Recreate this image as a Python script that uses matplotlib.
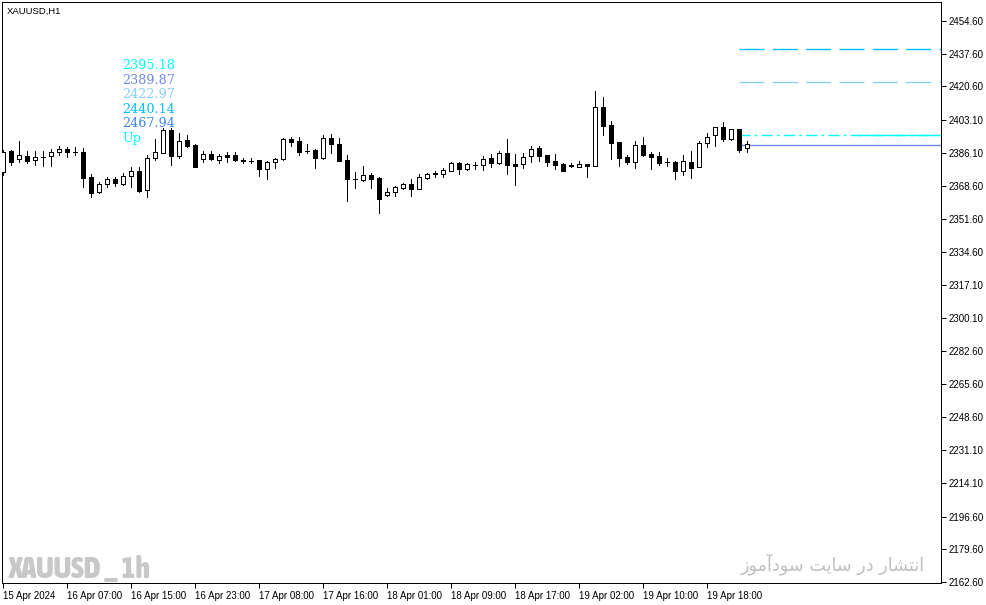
import matplotlib
matplotlib.use("Agg")
import matplotlib.pyplot as plt
from matplotlib import font_manager as fm
import numpy as np

# ---------------- data ----------------
opens = [2376.18, 2386.93, 2382.60, 2384.33, 2382.25, 2383.98, 2384.33, 2386.41, 2387.98, 2386.59,
         2386.59, 2373.23, 2365.42, 2369.76, 2372.36, 2369.76, 2374.10, 2376.70, 2366.63, 2383.12,
         2386.07, 2397.86, 2384.51, 2392.49, 2390.06, 2382.94, 2385.20, 2382.25, 2384.68, 2384.68,
         2382.08, 2381.90, 2382.25, 2377.74, 2381.04, 2382.60, 2393.35, 2391.97, 2387.11, 2387.45,
         2383.12, 2393.70, 2390.58, 2382.25, 2372.53, 2372.01, 2374.27, 2372.88, 2364.21, 2365.42,
         2367.85, 2369.76, 2367.33, 2373.05, 2375.48, 2375.14, 2376.70, 2380.69, 2377.74, 2379.82,
         2379.47, 2383.12, 2380.86, 2385.72, 2379.99, 2379.99, 2384.16, 2388.32, 2384.68, 2381.73,
         2379.99, 2379.47, 2378.78, 2379.99, 2379.13, 2409.66, 2400.47, 2391.62, 2383.64, 2381.38,
         2389.88, 2385.20, 2384.16, 2381.21, 2381.04, 2376.70, 2381.21, 2378.78, 2390.92, 2395.14,
         2399.60, 2393.35, 2398.21, 2388.32]
highs = [2387.45, 2387.45, 2392.14, 2387.11, 2387.11, 2387.11, 2387.80, 2389.54, 2388.84, 2388.84,
         2388.32, 2374.96, 2370.97, 2373.57, 2373.57, 2375.31, 2378.43, 2378.43, 2384.85, 2393.01,
         2398.73, 2398.73, 2396.48, 2395.26, 2390.58, 2387.11, 2386.93, 2385.37, 2386.59, 2386.59,
         2383.46, 2383.12, 2382.25, 2381.56, 2383.46, 2393.53, 2394.39, 2394.22, 2390.40, 2387.80,
         2395.26, 2395.78, 2393.53, 2384.68, 2375.83, 2379.13, 2375.31, 2373.23, 2367.50, 2368.72,
         2370.45, 2372.19, 2374.79, 2375.31, 2376.70, 2377.91, 2381.38, 2381.38, 2380.86, 2381.21,
         2384.33, 2385.37, 2387.11, 2393.18, 2385.37, 2385.72, 2389.54, 2389.54, 2384.85, 2385.37,
         2380.51, 2380.51, 2381.56, 2379.99, 2418.16, 2414.87, 2402.38, 2391.62, 2384.68, 2391.97,
         2394.05, 2386.24, 2386.24, 2383.12, 2381.56, 2384.68, 2387.11, 2391.97, 2396.13, 2399.60,
         2401.86, 2398.21, 2398.21, 2391.97]
lows = [2374.44, 2379.65, 2381.38, 2380.51, 2379.65, 2379.13, 2379.13, 2384.85, 2383.98, 2384.85,
        2368.37, 2362.82, 2364.90, 2368.02, 2368.72, 2369.24, 2368.37, 2365.77, 2363.16, 2382.25,
        2385.72, 2379.65, 2383.46, 2389.19, 2378.78, 2381.38, 2382.25, 2380.86, 2381.38, 2381.73,
        2380.86, 2380.51, 2374.10, 2372.53, 2377.91, 2382.25, 2389.71, 2385.03, 2385.72, 2378.26,
        2382.77, 2386.07, 2381.90, 2361.08, 2367.85, 2371.49, 2367.85, 2354.66, 2363.51, 2363.69,
        2366.98, 2363.69, 2366.98, 2372.19, 2373.23, 2373.57, 2376.35, 2375.14, 2377.04, 2377.74,
        2377.04, 2378.78, 2380.17, 2374.96, 2369.24, 2378.09, 2381.38, 2381.73, 2379.13, 2377.74,
        2376.70, 2378.78, 2378.78, 2373.57, 2378.95, 2395.26, 2382.77, 2379.13, 2380.17, 2378.26,
        2384.51, 2377.74, 2379.65, 2379.30, 2372.19, 2374.62, 2372.88, 2378.78, 2389.19, 2389.71,
        2392.31, 2392.66, 2386.59, 2386.59]
closes = [2386.59, 2381.38, 2384.85, 2381.90, 2383.64, 2383.90, 2386.41, 2387.98, 2386.41, 2386.55,
          2373.05, 2365.25, 2369.58, 2372.36, 2370.10, 2374.10, 2376.52, 2366.29, 2383.12, 2386.24,
          2397.86, 2384.33, 2392.31, 2389.71, 2378.78, 2385.37, 2382.60, 2384.51, 2383.98, 2382.08,
          2381.90, 2381.95, 2377.39, 2381.21, 2382.77, 2393.18, 2391.62, 2386.59, 2387.05, 2383.12,
          2393.53, 2390.40, 2381.90, 2372.19, 2372.45, 2374.27, 2372.53, 2361.78, 2365.42, 2368.02,
          2369.58, 2367.33, 2373.23, 2374.79, 2374.79, 2377.04, 2380.51, 2377.74, 2379.99, 2379.88,
          2382.94, 2380.86, 2385.72, 2379.82, 2379.30, 2383.98, 2387.80, 2384.51, 2381.38, 2379.82,
          2376.70, 2378.95, 2379.99, 2379.30, 2409.66, 2400.12, 2391.27, 2383.46, 2381.38, 2389.88,
          2384.85, 2383.98, 2380.69, 2381.15, 2376.70, 2381.56, 2378.09, 2390.92, 2394.39, 2399.60,
          2393.35, 2398.21, 2387.63, 2390.58]

xtick_bars = [0, 8, 16, 24, 32, 40, 48, 56, 64, 72, 80, 88]
xtick_labels = ["15 Apr 2024", "16 Apr 07:00", "16 Apr 15:00", "16 Apr 23:00",
                "17 Apr 08:00", "17 Apr 16:00", "18 Apr 01:00", "18 Apr 09:00",
                "18 Apr 17:00", "19 Apr 02:00", "19 Apr 10:00", "19 Apr 18:00"]
ytick_vals = [2454.60, 2437.60, 2420.60, 2403.10, 2386.10, 2368.60, 2351.60, 2334.60, 2317.10,
              2300.10, 2282.60, 2265.60, 2248.60, 2231.10, 2214.10, 2196.60, 2179.60, 2162.60]

level_values = [2395.18, 2389.87, 2422.97, 2440.14, 2467.94]
level_colors = ["#00FFFF", "#6F88E6", "#87CEFA", "#00BFFF", "#3C84E8"]
signal_text = "Up"

# ---------------- figure ----------------
W, H = 987, 605
fig = plt.figure(figsize=(W / 100, H / 100), dpi=100)
fig.patch.set_facecolor("white")
ax = fig.add_axes([2 / W, 22 / H, 939 / W, 581 / H])
ax.set_facecolor("white")

n = len(opens)
x = np.arange(n)
o = np.array(opens); c = np.array(closes); h = np.array(highs); l = np.array(lows)
up = c >= o

px = 0.72  # one pixel in points at 100 dpi

# wicks
ax.vlines(x, l, h, color="black", linewidth=px, zorder=3, antialiased=False)
# bodies
bottoms = np.minimum(o, c)
heights = np.maximum(np.abs(c - o), 0.05)
ax.bar(x, heights, bottom=bottoms, width=0.48,
       color=np.where(up, "white", "black"), edgecolor="black",
       linewidth=px, zorder=4, antialiased=False)

# horizontal indicator levels (start at the bar before last)
start = n - 2
end_x = 117.2
styles = {2422.97: (0, (18, 6)), 2440.14: (0, (18, 6)), 2395.18: (0, (8, 3, 2, 3)),
          2389.87: (0, ()), 2467.94: (0, ())}
for val, col in zip(level_values, level_colors):
    ln, = ax.plot([start - 0.1, end_x], [val, val], color=col, linewidth=1.0,
                  linestyle=styles[val], zorder=2, solid_capstyle="butt",
                  dash_capstyle="butt")
    ln.set_snap(True)
# cyan level becomes solid on its right part
ln, = ax.plot([106.7, end_x], [level_values[0]] * 2, color=level_colors[0],
              linewidth=1.0, zorder=2, solid_capstyle="butt")
ln.set_snap(True)

# axes limits / ticks
ax.set_xlim(-0.1625, end_x)
ax.set_ylim(2162.08, 2464.49)
ax.yaxis.tick_right()
ax.set_yticks(ytick_vals)
ax.set_yticklabels([f"{v:.2f}" for v in ytick_vals])
ax.set_xticks(xtick_bars)
ax.set_xticklabels(xtick_labels, ha="left")
ax.tick_params(axis="y", direction="out", length=3.5, width=px, pad=2,
               labelsize=7, labelfontfamily="Liberation Sans")
ax.tick_params(axis="x", direction="out", length=3.5, width=px, pad=2,
               labelsize=7, labelfontfamily="Liberation Sans")
for lab in ax.get_xticklabels():
    lab.set_horizontalalignment("left")
for sp in ax.spines.values():
    sp.set_linewidth(px)
    sp.set_color("black")

# ---------------- texts ----------------
def ft(xp, yp, s, **kw):
    return fig.text(xp / W, 1 - yp / H, s, **kw)

renderer = fig.canvas.get_renderer()

def fit_width(t, target):
    bb = t.get_window_extent(renderer)
    t.set_fontsize(t.get_fontsize() * target / bb.width)

ft(7, 11, "XAUUSD,H1", fontsize=6.8, family="Liberation Sans", va="center", ha="left")

labels = [f"{v:.2f}" for v in level_values] + [signal_text]
label_cols = level_colors + ["#00FFFF"]
for k, (s, col) in enumerate(zip(labels, label_cols)):
    ft(122, 65.5 + 14.6 * k, s, fontsize=9.2, family="DejaVu Serif", color=col,
       va="center", ha="left")

# pick a narrow bold font for the symbol watermark if one is installed
def narrow_bold():
    best = None
    for f in fm.fontManager.ttflist:
        nm = f.name.lower()
        narrow = ("condensed" in nm or "narrow" in nm or
                  str(f.stretch) in ("condensed", "semi-condensed", "extra-condensed",
                                     "ultra-condensed") or
                  (isinstance(f.stretch, int) and f.stretch <= 400)) \
            or "condensed" in f.fname.lower() or "narrow" in f.fname.lower()
        w = f.weight if isinstance(f.weight, int) else {"bold": 700, "heavy": 800,
                                                         "black": 900}.get(str(f.weight), 400)
        if narrow and w >= 700 and "italic" not in str(f.style) and "Italic" not in f.fname:
            if best is None or w > best[0]:
                best = (w, f.fname)
    return fm.FontProperties(fname=best[1]) if best else None

nb = narrow_bold()
if nb is not None:
    wm = ft(8, 578, "XAUUSD _ 1h", fontproperties=nb, color="#C8C8C8",
            va="baseline", ha="left")
    wm.set_fontsize(20)
else:
    wm = ft(8, 578, "XAUUSD _ 1h", fontsize=19.5, fontweight="bold",
            family=["DejaVu Sans"], color="#C8C8C8", va="baseline", ha="left")
fit_width(wm, 142)

# Persian watermark (pre-shaped presentation forms, visual order)
persian = ("\uFEAF\uFEEE\uFEE3\uFE81\uFEA9\uFEEE\uFEB3 \uFE96\uFEF3\uFE8E\uFEB3 "
           "\uFEAD\uFEA9 \uFEAD\uFE8E\uFEB8\uFE98\uFEE7\uFE8D")
pt = ft(925, 564, persian, fontsize=15, family="DejaVu Sans",
        color="#C0C0C0", va="center", ha="right")
fit_width(pt, 185)

fig.savefig("out.png", dpi=100, facecolor="white")
